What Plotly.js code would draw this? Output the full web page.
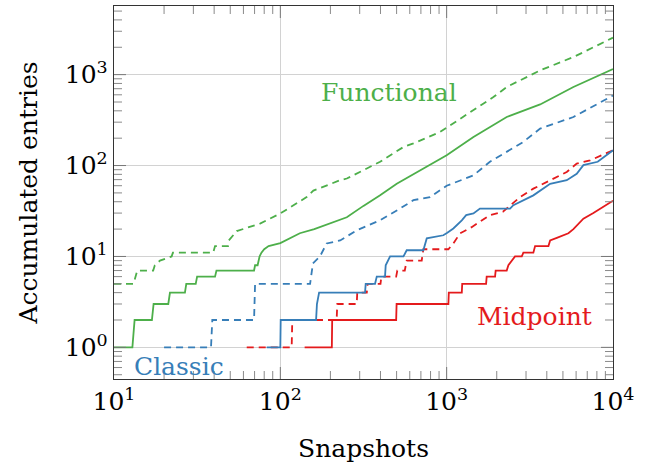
<!DOCTYPE html>
<html>
<head>
<meta charset="utf-8">
<script src="https://cdn.plot.ly/plotly-3.0.1.min.js"></script>
<style>html,body{margin:0;padding:0;background:#fff;}#chart{width:646px;height:468px;}</style>
</head>
<body>
<div id="chart"></div>
<script>
// ---- Data (snapshots vs accumulated entries) ----
var functionalSolidX = [10, 12.9, 13.3, 16.9, 17.3, 21.2, 21.7, 26.7, 27.2, 31, 31.6, 40.5, 41.3, 69.5, 70.5, 73, 75, 77, 80, 85, 100, 131, 160, 207, 251, 316, 398, 501, 631, 794, 1000, 1449, 2296, 3647, 5780, 10000];
var functionalSolidY = [1, 1, 2, 2, 3, 3, 4, 4, 5, 5, 6, 6, 7, 7, 8, 8, 10, 11, 12, 13, 14, 18, 20, 24, 27, 36, 47, 63, 80, 101, 130, 206, 342, 470, 731, 1150];

var functionalDashX = [10, 13.1, 13.8, 17.2, 17.6, 18.9, 22.2, 22.6, 39.5, 40.5, 48.5, 49, 54.7, 75.5, 100, 144, 158, 229, 251, 301, 398, 550, 631, 912, 1449, 1910, 2296, 3647, 5780, 10000];
var functionalDashY = [5, 5, 7, 7, 8, 9, 10, 11, 11, 13, 13, 15, 19, 23, 29.7, 45, 53, 69, 72, 85, 110, 160, 175, 234, 405, 567, 731, 1114, 1560, 2550];

var classicSolidX = [82.8, 100, 100.5, 164, 166, 171, 323, 326, 371, 380, 426, 430, 457, 550, 575, 724, 759, 955, 1009, 1097, 1233, 1310, 1449, 1585, 2405, 2518, 3321, 4188, 5272, 6053, 6637, 8090, 10000];
var classicSolidY = [1, 1, 2, 2, 3, 4, 4, 5, 5, 6, 6, 8, 10, 10, 11.7, 11.7, 15.8, 17.1, 18.2, 20.3, 25, 28.5, 29.7, 33.6, 33.6, 36.6, 47, 63, 69, 81, 101, 110, 147];

var classicDashX = [20, 38.3, 39, 69.5, 70.5, 151, 157, 173, 190, 229, 288, 398, 525, 631, 794, 1000, 1449, 1820, 2890, 3647, 5780, 10000];
var classicDashY = [1, 1, 2, 2, 5, 5, 8.4, 10, 13.9, 15, 19.4, 25, 33.7, 41.6, 45, 60, 78, 110, 182, 255, 342, 590];

var midpointSolidX = [140, 204, 205, 497, 500, 1024, 1030, 1233, 1240, 1726, 1740, 1954, 1970, 2296, 2350, 2461, 2576, 2829, 2891, 3321, 3401, 4091, 4188, 4594, 5394, 5780, 6637, 7621, 8750, 10000];
var midpointSolidY = [1, 1, 2, 2, 3, 3, 4, 4, 5, 5, 6, 6, 7, 7, 8, 9, 10, 10, 11, 11, 13, 13, 15, 16, 18, 20, 26, 30, 35, 41];

var midpointDashX = [62.8, 117, 118, 218, 220, 288, 290, 331, 335, 400, 405, 497, 505, 560, 575, 708, 724, 1024, 1097, 1202, 1413, 1585, 1820, 2180, 2762, 3321, 3820, 5272, 6053, 7278, 10000];
var midpointDashY = [1, 1, 2, 2, 3, 3, 4, 4, 5, 5, 6, 6, 7, 7, 9, 9, 12, 12, 13.9, 17.9, 21, 24, 28.5, 31, 45, 55.7, 63, 85, 105, 114, 147];

var xTickVals = [10, 100, 1000, 10000];
var xTickText = ['10<sup>1</sup>', '10<sup>2</sup>', '10<sup>3</sup>', '10<sup>4</sup>'];
var yTickVals = [1, 10, 100, 1000];
var yTickText = ['10<sup>0</sup>', '10<sup>1</sup>', '10<sup>2</sup>', '10<sup>3</sup>'];

var seriesNames = ['Functional', 'Classic', 'Midpoint'];
var seriesColors = ['#4daf4a', '#377eb8', '#e41a1c'];

// ---- styling ----
var FONT = 'DejaVu Serif';
var LW = 1.8;
var DASH = '7px,5px';
var X_RANGE = [1, 4];
var Y_RANGE = [-0.348, 3.755];

function minorTicks(lo, hi) {
  var out = [];
  for (var e = lo; e <= hi; e++) {
    for (var m = 2; m <= 9; m++) out.push(m * Math.pow(10, e));
  }
  return out;
}

// tick marks drawn on all four sides of the frame (pointing inward)
function tickShapes() {
  var shapes = [];
  function frac(v, r) { return (Math.log10(v) - r[0]) / (r[1] - r[0]); }
  function addX(vals, len, color) {
    vals.forEach(function (v) {
      var p = frac(v, X_RANGE);
      if (p <= 0.002 || p >= 0.998) return;
      shapes.push({type: 'line', xref: 'paper', yref: 'paper', x0: p, x1: p, ysizemode: 'pixel', yanchor: 0, y0: 0, y1: len, line: {color: color, width: 1}});
      shapes.push({type: 'line', xref: 'paper', yref: 'paper', x0: p, x1: p, ysizemode: 'pixel', yanchor: 1, y0: 0, y1: -len, line: {color: color, width: 1}});
    });
  }
  function addY(vals, len, color) {
    vals.forEach(function (v) {
      var p = frac(v, Y_RANGE);
      if (p <= 0.002 || p >= 0.998) return;
      shapes.push({type: 'line', xref: 'paper', yref: 'paper', y0: p, y1: p, xsizemode: 'pixel', xanchor: 0, x0: 0, x1: len, line: {color: color, width: 1}});
      shapes.push({type: 'line', xref: 'paper', yref: 'paper', y0: p, y1: p, xsizemode: 'pixel', xanchor: 1, x0: 0, x1: -len, line: {color: color, width: 1}});
    });
  }
  addX(minorTicks(1, 3), 8, '#8a8a8a');
  addY(minorTicks(-1, 3), 8, '#8a8a8a');
  addX(xTickVals, 12, '#777');
  addY(yTickVals, 12, '#777');
  return shapes;
}

function trace(x, y, color, dashed) {
  return {
    x: x, y: y, type: 'scatter', mode: 'lines',
    line: {color: color, width: LW, dash: dashed ? DASH : 'solid', shape: 'linear'},
    hoverinfo: 'skip', showlegend: false
  };
}

var data = [
  trace(midpointDashX, midpointDashY, seriesColors[2], true),
  trace(midpointSolidX, midpointSolidY, seriesColors[2], false),
  trace(classicDashX, classicDashY, seriesColors[1], true),
  trace(classicSolidX, classicSolidY, seriesColors[1], false),
  trace(functionalDashX, functionalDashY, seriesColors[0], true),
  trace(functionalSolidX, functionalSolidY, seriesColors[0], false)
];

function axis(range, tv, tt, titleText, standoff) {
  return {
    type: 'log', range: range,
    tickmode: 'array', tickvals: tv, ticktext: tt,
    ticks: '',
    showline: true, linecolor: '#333', linewidth: 1.3, mirror: true,
    showgrid: true, gridcolor: '#d2d2d2', gridwidth: 1,
    zeroline: false,
    tickfont: {family: FONT, size: 25, color: '#000'},
    title: {text: titleText, font: {family: FONT, size: 25, color: '#000'}, standoff: standoff}
  };
}

var layout = {
  width: 646, height: 468,
  margin: {l: 114, r: 33, t: 6, b: 89},
  paper_bgcolor: '#fff', plot_bgcolor: '#fff',
  font: {family: FONT, size: 25, color: '#000'},
  showlegend: false,
  xaxis: axis(X_RANGE, xTickVals, xTickText, 'Snapshots', 24),
  yaxis: axis(Y_RANGE, yTickVals, yTickText, 'Accumulated entries', 20),
  shapes: tickShapes(),
  annotations: [
    {text: seriesNames[0], x: 2.654, y: 2.806, xref: 'x', yref: 'y', showarrow: false,
     font: {family: FONT, size: 25, color: seriesColors[0]}},
    {text: seriesNames[1], x: 1.391, y: -0.205, xref: 'x', yref: 'y', showarrow: false,
     font: {family: FONT, size: 25, color: seriesColors[1]}},
    {text: seriesNames[2], x: 3.526, y: 0.344, xref: 'x', yref: 'y', showarrow: false,
     font: {family: FONT, size: 25, color: seriesColors[2]}}
  ]
};

Plotly.newPlot('chart', data, layout, {staticPlot: true, displayModeBar: false});
</script>
</body>
</html>
